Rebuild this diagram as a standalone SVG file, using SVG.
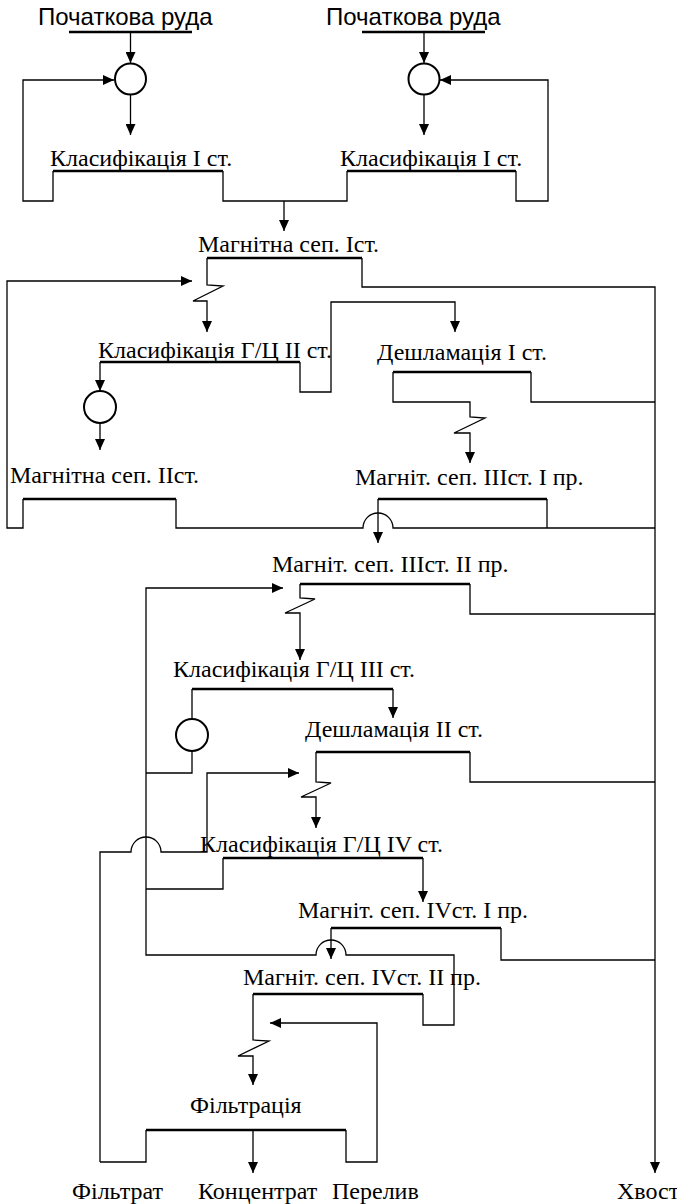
<svg xmlns="http://www.w3.org/2000/svg" width="677" height="1204" viewBox="0 0 677 1204">
<style>
.t{font-family:"Liberation Serif","Times New Roman",serif;font-size:24px;fill:#000}
.s{font-family:"Liberation Sans",Arial,sans-serif;font-size:24px;fill:#000}
.bar{stroke:#000;stroke-width:2.6;fill:none}
.ln{stroke:#000;stroke-width:1.3;fill:none}
.ar{stroke:#000;stroke-width:1.3;fill:none;marker-end:url(#ah)}
.c{stroke:#000;stroke-width:2;fill:#fff}
</style>
<defs>
<marker id="ah" markerUnits="userSpaceOnUse" markerWidth="11" markerHeight="10" refX="11" refY="5" orient="auto">
<path d="M0,0 L11,5 L0,10 z" fill="#000"/>
</marker>
</defs>
<g id="connectors">
<path class="ar" d="M130.5,32 V63"/>
<path class="ar" d="M130.5,95 V135"/>
<path class="ar" d="M53,171 V201 H23 V80 H114"/>
<path class="ln" d="M223,171 V201 H347 V171"/>
<path class="ar" d="M284,201 V231"/>
<path class="ar" d="M424,32 V63"/>
<path class="ar" d="M424,95 V135"/>
<path class="ar" d="M516,171 V201 H548 V80 H440"/>
<path class="ar" d="M207,258 V285 L223,286 L193,301 L207,301 V332"/>
<path class="ar" d="M362,258 V287 H655 V1173"/>
<path class="ar" d="M23,499 V528 H7 V281 H192"/>
<path class="ar" d="M100,362 V391"/>
<path class="ar" d="M100,423 V450"/>
<path class="ar" d="M300,362 V392 H331 V302 H455 V332"/>
<path class="ln" d="M531,372 V402 H655"/>
<path class="ar" d="M393,372 V402 H470 V417 L485,418 L454,433 L470,433 V463"/>
<path class="ln" d="M176,499 V528 H363 A15,15 0 0 1 393,528 H655"/>
<path class="ln" d="M547,499 V528"/>
<path class="ar" d="M378,499 V543"/>
<path class="ar" d="M300,584 V598 L315,599 L285,613 L300,613 V660"/>
<path class="ln" d="M470,584 V614 H655"/>
<path class="ar" d="M423,994 V1025 H454 V955 H346 A15,15 0 0 0 316,955 H146 V588 H283"/>
<path class="ar" d="M393,689 V718"/>
<path class="ln" d="M192,689 V719"/>
<path class="ln" d="M192,751 V773 H146"/>
<path class="ln" d="M470,752 V782 H655"/>
<path class="ar" d="M316,752 V782 L331,783 L301,797 L316,797 V828"/>
<path class="ar" d="M100,1162 V852 H131 A15,15 0 0 1 161,852 H207 V773 H299"/>
<path class="ln" d="M146,1130 V1162 H100"/>
<path class="ln" d="M223,858 V889 H146"/>
<path class="ar" d="M423,858 V902"/>
<path class="ar" d="M331,928 V959"/>
<path class="ln" d="M501,928 V960 H655"/>
<path class="ar" d="M253,994 V1040 L269,1041 L238,1056 L253,1056 V1085"/>
<path class="ar" d="M253,1130 V1173"/>
<path class="ar" d="M346,1130 V1162 H377 V1023 H270"/>
</g>
<g id="ore1"><text class="s" x="38" y="25">Початкова руда</text><path class="bar" d="M69,32 H192"/></g>
<g id="ore2"><text class="s" x="326" y="25">Початкова руда</text><path class="bar" d="M362,32 H485"/></g>
<g id="mix1"><circle class="c" cx="130.5" cy="79" r="15.5"/></g>
<g id="mix2"><circle class="c" cx="424" cy="79" r="15.5"/></g>
<g id="class1a"><text class="t" x="50" y="166">Класифікація І ст.</text><path class="bar" d="M53,171 H223"/></g>
<g id="class1b"><text class="t" x="340" y="166">Класифікація І ст.</text><path class="bar" d="M347,171 H516"/></g>
<g id="mag1"><text class="t" x="198" y="252">Магнітна сеп. Іст.</text><path class="bar" d="M207,258 H362"/></g>
<g id="class2"><text class="t" x="98" y="358">Класифікація Г/Ц II ст.</text><path class="bar" d="M100,362 H300"/></g>
<g id="mix3"><circle class="c" cx="100" cy="407" r="16"/></g>
<g id="desl1"><text class="t" x="377" y="360">Дешламація І ст.</text><path class="bar" d="M393,372 H531"/></g>
<g id="mag2"><text class="t" x="10" y="483">Магнітна сеп. IIст.</text><path class="bar" d="M23,499 H176"/></g>
<g id="mag3a"><text class="t" x="355" y="485">Магніт. сеп. IIIст. I пр.</text><path class="bar" d="M378,499 H547"/></g>
<g id="mag3b"><text class="t" x="272" y="572">Магніт. сеп. IIIст. II пр.</text><path class="bar" d="M300,584 H470"/></g>
<g id="class3"><text class="t" x="173" y="677">Класифікація Г/Ц III ст.</text><path class="bar" d="M192,689 H393"/></g>
<g id="mix4"><circle class="c" cx="192" cy="735" r="16"/></g>
<g id="desl2"><text class="t" x="305" y="737">Дешламація II ст.</text><path class="bar" d="M316,752 H470"/></g>
<g id="class4"><text class="t" x="200" y="852">Класифікація Г/Ц IV ст.</text><path class="bar" d="M223,858 H423"/></g>
<g id="mag4a"><text class="t" x="298" y="918">Магніт. сеп. IVст. I пр.</text><path class="bar" d="M331,928 H501"/></g>
<g id="mag4b"><text class="t" x="243" y="985">Магніт. сеп. IVст. II пр.</text><path class="bar" d="M253,994 H423"/></g>
<g id="filt"><text class="t" x="190" y="1113">Фільтрація</text><path class="bar" d="M146,1130 H346"/></g>
<g id="out1"><text class="t" x="72" y="1199">Фільтрат</text></g>
<g id="out2"><text class="t" x="198" y="1199">Концентрат</text></g>
<g id="out3"><text class="t" x="332" y="1199">Перелив</text></g>
<g id="out4"><text class="t" x="617" y="1199">Хвост</text></g>
</svg>
